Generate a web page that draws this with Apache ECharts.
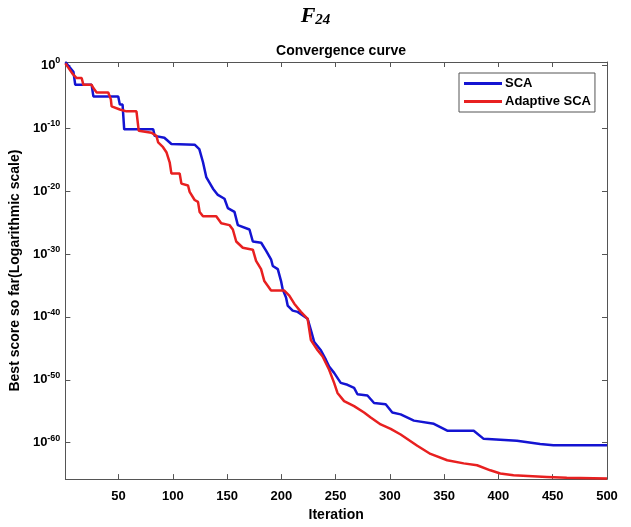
<!DOCTYPE html>
<html>
<head>
<meta charset="utf-8">
<script src="https://cdn.jsdelivr.net/npm/echarts@6/dist/echarts.min.js"></script>
<style>html,body{margin:0;padding:0;background:#fff;}#c{width:631px;height:527px;}</style>
</head>
<body>
<div id="c"></div>
<script>
// Iteration numbers and log10(best score)
var scaIter = [1, 8.4, 10.1, 25.2, 26.8, 49.7, 51.2, 53.7, 55.2, 81.9, 83.3, 92.2, 98.7, 120.1, 124.4, 127.8, 130.8, 137, 141.5, 147.6, 150.7, 156.8, 159.9, 170.6, 173.7, 181.4, 186, 190.6, 192.1, 196.7, 199.7, 201.2, 204.3, 205.8, 210.4, 215, 224.2, 227.2, 230.3, 236.4, 241, 244, 248.6, 254.7, 260.9, 267, 270.1, 279.3, 285.4, 296.1, 302.2, 309.9, 322.1, 340.5, 352.8, 377.2, 386.4, 417, 438.4, 450.6, 500];
var scaLog = [0.53, -0.99, -3.08, -3.08, -4.92, -4.92, -6.23, -6.23, -10.16, -10.16, -11.2, -11.5, -12.5, -12.6, -13.3, -15.4, -17.75, -19.6, -20.6, -21.2, -22.7, -23.3, -25.4, -26.1, -28.0, -28.2, -29.5, -30.9, -31.9, -32.4, -34.3, -35.6, -36.9, -38.2, -39.0, -39.2, -40.3, -42.1, -44.0, -45.3, -46.8, -47.9, -48.9, -50.5, -50.8, -51.3, -52.3, -52.5, -53.7, -53.9, -55.2, -55.5, -56.5, -57.0, -58.1, -58.1, -59.4, -59.7, -60.2, -60.4, -60.4];
var adaIter = [1, 7.5, 11.4, 16, 17.6, 25.2, 26.8, 29.8, 40.5, 42.9, 43.6, 51.2, 57.3, 66.5, 68.6, 69.6, 80.3, 84.9, 86.5, 91, 94.1, 97.1, 98.7, 106.3, 107.9, 114, 115.5, 120.1, 123.2, 124.7, 127.8, 140, 144.6, 152.2, 155.3, 158.4, 164.5, 173.7, 176.7, 181.3, 184.3, 190.5, 202.7, 207.3, 211.9, 218, 224.2, 227.2, 233.4, 238, 244, 248.6, 251.7, 257.8, 267, 276.2, 282.3, 291.5, 300.7, 309.9, 325.2, 337.4, 352.8, 368, 380.3, 392.5, 401.7, 413.9, 444.6, 462.9, 500];
var adaLog = [0.33, -1.3, -2.0, -2.0, -3.08, -3.08, -3.6, -4.3, -4.3, -5.4, -6.5, -7.0, -7.3, -7.3, -10.4, -10.7, -10.7, -11.2, -12.25, -13.0, -13.8, -15.4, -17.2, -17.2, -18.8, -19.1, -20.1, -21.4, -21.7, -23.3, -24.0, -24.0, -25.1, -25.4, -26.1, -28.0, -29.0, -29.3, -31.1, -32.4, -34.3, -35.8, -35.8, -36.6, -37.9, -39.2, -40.3, -43.7, -45.3, -46.3, -48.4, -50.5, -52.1, -53.4, -54.2, -55.2, -56.0, -57.1, -57.8, -58.7, -60.5, -61.8, -62.8, -63.3, -63.6, -64.4, -64.9, -65.2, -65.45, -65.6, -65.7];
var seriesNames = ['SCA', 'Adaptive SCA'];
var xTicks = [50, 100, 150, 200, 250, 300, 350, 400, 450, 500];
var yTickExps = [0, -10, -20, -30, -40, -50, -60];

function pairs(xs, ys) { return xs.map(function (x, i) { return [x, ys[i]]; }); }

var FONT = 'Liberation Sans, Arial, sans-serif';
var AX = '#555';
var chart = echarts.init(document.getElementById('c'));

function yLabel(v) {
  var r = Math.round(v);
  if (Math.abs(v - r) > 1e-6 || yTickExps.indexOf(r) < 0) return '';
  return '{b|10}{s|' + r + '}';
}
function xLabel(v) {
  return xTicks.indexOf(Math.round(v)) >= 0 && Math.abs(v - Math.round(v)) < 1e-6 ? String(Math.round(v)) : '';
}

var commonX = {
  type: 'value', min: 1, max: 500, minInterval: 50, maxInterval: 50,
  axisLine: { show: true, onZero: false, lineStyle: { color: AX, width: 1 } },
  axisTick: { show: true, inside: true, length: 5, lineStyle: { color: AX } },
  splitLine: { show: false }
};
var commonY = {
  type: 'value', min: -65.8, max: 0.55, minInterval: 10, maxInterval: 10,
  axisLine: { show: true, onZero: false, lineStyle: { color: AX, width: 1 } },
  axisTick: { show: true, inside: true, length: 5, lineStyle: { color: AX } },
  splitLine: { show: false }
};

chart.setOption({
  animation: false,
  backgroundColor: '#fff',
  title: [
    {
      text: '{f|F}{s|24}', left: 'center', top: -1,
      textStyle: {
        rich: {
          f: { fontFamily: 'Liberation Serif, Times New Roman, serif', fontStyle: 'italic', fontSize: 22, color: '#000' },
          s: { fontFamily: 'Liberation Serif, Times New Roman, serif', fontStyle: 'italic', fontSize: 15, color: '#000', padding: [9, 0, 0, 0] }
        }
      }
    },
    {
      text: 'Convergence curve', left: 336, top: 39, textAlign: 'center',
      textStyle: { fontFamily: FONT, fontWeight: 'bold', fontSize: 14, color: '#000' }
    }
  ],
  grid: { left: 65, right: 24, top: 62, bottom: 44 },
  legend: {
    data: [{ name: seriesNames[0], icon: 'rect' }, { name: seriesNames[1], icon: 'rect' }],
    orient: 'vertical', left: 459, top: 73,
    backgroundColor: '#fff', borderColor: AX, borderWidth: 1,
    padding: [3, 4, 3, 5], itemGap: 3, itemWidth: 38, itemHeight: 3,
    textStyle: { fontFamily: FONT, fontWeight: 'bold', fontSize: 13, color: '#000', padding: [0, 0, 0, -2], lineHeight: 15 }
  },
  xAxis: [
    Object.assign({}, commonX, {
      position: 'bottom', name: 'Iteration', nameLocation: 'middle', nameGap: 28,
      nameTextStyle: { fontFamily: FONT, fontWeight: 'bold', fontSize: 14, color: '#000' },
      axisLabel: { show: true, showMinLabel: false, margin: 11, formatter: xLabel, fontFamily: FONT, fontWeight: 'bold', fontSize: 13, color: '#000' }
    }),
    Object.assign({}, commonX, { position: 'top', axisLabel: { show: false } })
  ],
  yAxis: [
    Object.assign({}, commonY, {
      position: 'left', name: 'Best score so far(Logarithmic scale)', nameLocation: 'middle', nameGap: 40,
      nameTextStyle: { fontFamily: FONT, fontWeight: 'bold', fontSize: 14, color: '#000' },
      axisLabel: {
        show: true, showMinLabel: false, showMaxLabel: false, margin: 5, formatter: yLabel,
        rich: {
          b: { fontFamily: FONT, fontWeight: 'bold', fontSize: 13, color: '#000' },
          s: { fontFamily: FONT, fontWeight: 'bold', fontSize: 9, color: '#000', padding: [0, 0, 9, 0] }
        }
      }
    }),
    Object.assign({}, commonY, { position: 'right', axisLabel: { show: false } })
  ],
  series: [
    { name: seriesNames[0], type: 'line', xAxisIndex: 0, yAxisIndex: 0, data: pairs(scaIter, scaLog), showSymbol: false, symbol: 'none', lineStyle: { color: '#1414d2', width: 2.5 }, itemStyle: { color: '#1414d2' } },
    { name: seriesNames[1], type: 'line', xAxisIndex: 0, yAxisIndex: 0, data: pairs(adaIter, adaLog), showSymbol: false, symbol: 'none', lineStyle: { color: '#e82020', width: 2.5 }, itemStyle: { color: '#e82020' } }
  ]
});
</script>
</body>
</html>
